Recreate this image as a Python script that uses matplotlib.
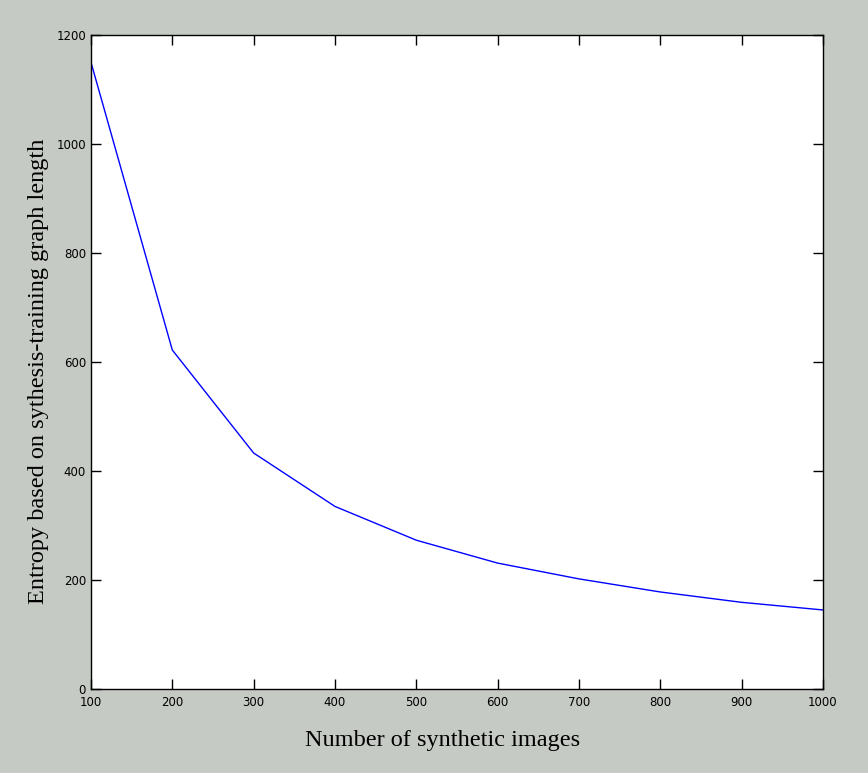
import matplotlib
matplotlib.use("Agg")
import matplotlib.pyplot as plt

n_images = [100, 200, 300, 400, 500, 600, 700, 800, 900, 1000]
entropy = [1150, 622, 433, 335, 273, 231, 202, 178, 159, 145]

xticks = [100, 200, 300, 400, 500, 600, 700, 800, 900, 1000]
yticks = [0, 200, 400, 600, 800, 1000, 1200]

bg = "#c6cac4"
fig = plt.figure(figsize=(8.68, 7.73), dpi=100, facecolor=bg)
ax = fig.add_axes([0.1048, 0.1087, 0.8433, 0.846])

ax.plot(n_images, entropy, color="#0000ff", linewidth=1.0)

ax.set_xlim(100, 1000)
ax.set_ylim(0, 1200)
ax.set_xticks(xticks)
ax.set_yticks(yticks)
ax.tick_params(direction="in", top=True, right=True, length=7, width=1,
               labelsize=8.5)
ax.tick_params(axis="x", pad=5)
for s in ax.spines.values():
    s.set_linewidth(1)

ax.set_xlabel("Number of synthetic images", family="Liberation Serif", fontsize=17.5, labelpad=15)
ax.set_ylabel("Entropy based on sythesis-training graph length", family="Liberation Serif",
              fontsize=17.5, labelpad=5)
ax.xaxis.label.set_x(0.481)
ax.yaxis.label.set_y(0.486)

fig.savefig("out.png", dpi=100, facecolor=bg)
